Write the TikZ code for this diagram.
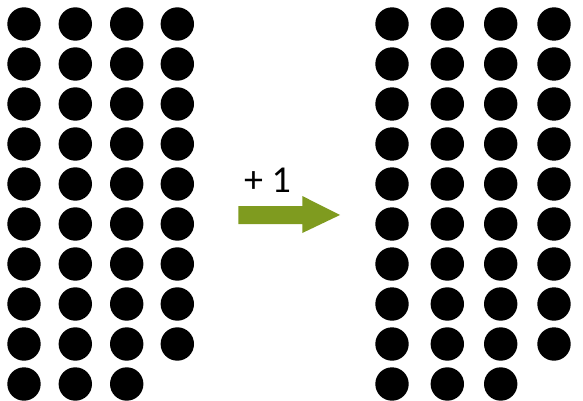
\documentclass[tikz,border=0pt]{standalone}
\usepackage{fontspec}
\setmainfont{Carlito}
\definecolor{arrowgreen}{RGB}{127,155,31}
\begin{document}
\begin{tikzpicture}[x=1pt,y=-1pt,
  dot/.style={circle,fill=black,minimum size=33.4pt,inner sep=0pt},
  label/.style={font=\fontsize{38}{44}\selectfont,anchor=base,inner sep=0pt}]
\useasboundingbox (0,0) rectangle (583,401);
% left grid
\foreach \c/\x in {1/24,2/75.3,3/126.7}{
  \foreach \r in {1,...,10}{
    \node[dot] (L\c-\r) at (\x,{24+40*(\r-1)}) {};
  }
}
\foreach \r in {1,...,9}{
  \node[dot] (L4-\r) at (177.3,{24+40*(\r-1)}) {};
}
% right grid
\foreach \c/\x in {1/392,2/447.3,3/500.7}{
  \foreach \r in {1,...,10}{
    \node[dot] (R\c-\r) at (\x,{24+40*(\r-1)}) {};
  }
}
\foreach \r in {1,...,9}{
  \node[dot] (R4-\r) at (554,{24+40*(\r-1)}) {};
}
% arrow
\fill[arrowgreen] (238.3,206) -- (302.3,206) -- (302.3,196) -- (340,215) -- (302.3,233) -- (302.3,224) -- (238.3,224) -- cycle;
\node[label] (plus) at (267.5,192) {+ 1};
\end{tikzpicture}
\end{document}
